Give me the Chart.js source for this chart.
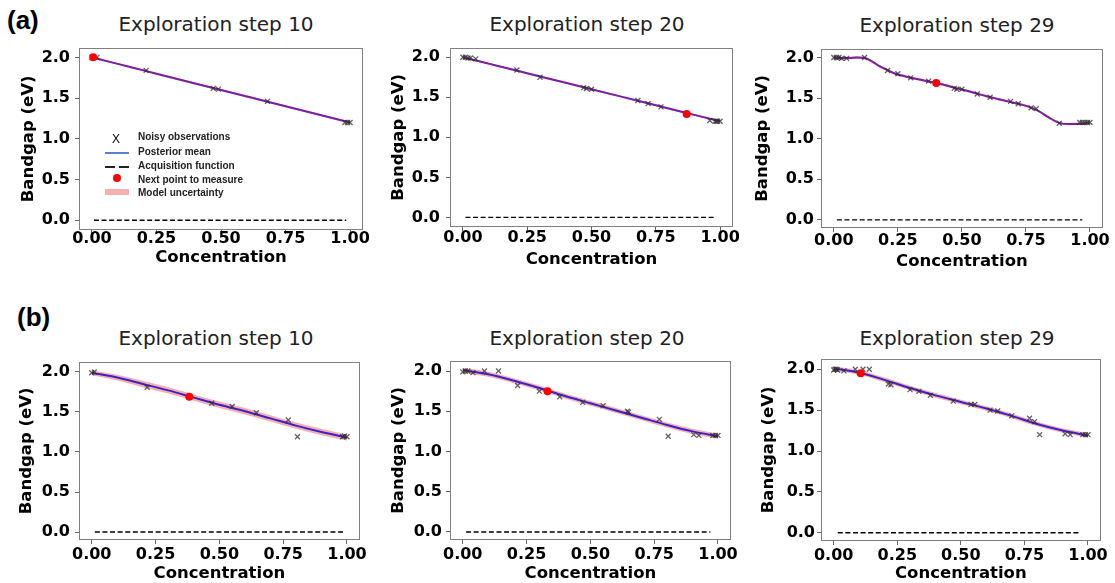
<!DOCTYPE html>
<html>
<head>
<meta charset="utf-8">
<script src="https://cdn.jsdelivr.net/npm/chart.js@4.4.1/dist/chart.umd.min.js"></script>
<style>
  body { margin: 0; background: #fff; width: 1115px; height: 583px; position: relative; overflow: hidden; font-family: 'DejaVu Sans', sans-serif; }
  canvas { position: absolute; }
  .title { position: absolute; transform: translate(-50%, -50%); font-size: 20px; color: #222; white-space: nowrap; }
  .panel { position: absolute; font: bold 26px 'Liberation Sans', sans-serif; color: #000; }
  .lg { position: absolute; font: bold 10px 'Liberation Sans', sans-serif; color: #222; transform: translateY(-50%); white-space: nowrap; }
  .sw { position: absolute; }
</style>
</head>
<body>
<div class="panel" style="left:7px;top:5px">(a)</div>
<div class="panel" style="left:17px;top:302px">(b)</div>

<div class="title" style="left:216px;top:24px">Exploration step 10</div>
<div class="title" style="left:587px;top:24px">Exploration step 20</div>
<div class="title" style="left:957px;top:25px">Exploration step 29</div>
<div class="title" style="left:216px;top:338px">Exploration step 10</div>
<div class="title" style="left:587px;top:338px">Exploration step 20</div>
<div class="title" style="left:957px;top:338px">Exploration step 29</div>

<script>
// shared ticks
const xTicks = [0, 0.25, 0.5, 0.75, 1.0];
const yTicks = [0, 0.5, 1.0, 1.5, 2.0];

// grid the posterior mean was read on
const meanX = [0, 0.1, 0.2, 0.3, 0.4, 0.5, 0.6, 0.7, 0.8, 0.9, 1.0];

// (a) step 10
const a10Mean = [2.0, 1.92, 1.84, 1.76, 1.68, 1.60, 1.52, 1.44, 1.36, 1.28, 1.20];
const a10Sigma = [0.012, 0.012, 0.012, 0.012, 0.012, 0.012, 0.012, 0.012, 0.012, 0.012, 0.012];
const a10ObsX = [0.0, 0.02, 0.21, 0.47, 0.49, 0.68, 0.98, 0.99, 1.0];
const a10ObsY = [2.0, 2.0, 1.84, 1.62, 1.61, 1.46, 1.2, 1.2, 1.2];
const a10Next = [0.005, 2.0];
const a10AcqX = [0.008, 0.985];
const a10AcqY = [0, 0];

// (a) step 20
const a20Mean = [2.0, 1.92, 1.84, 1.76, 1.68, 1.60, 1.52, 1.44, 1.36, 1.28, 1.20];
const a20Sigma = [0.012, 0.012, 0.012, 0.012, 0.012, 0.012, 0.012, 0.012, 0.012, 0.012, 0.012];
const a20ObsX = [0.0, 0.01, 0.02, 0.03, 0.05, 0.21, 0.30, 0.47, 0.48, 0.50, 0.68, 0.72, 0.77, 0.96, 0.98, 0.985, 0.99, 1.0];
const a20ObsY = [2.0, 2.0, 1.99, 1.99, 1.98, 1.84, 1.75, 1.62, 1.61, 1.60, 1.46, 1.42, 1.38, 1.21, 1.2, 1.2, 1.2, 1.2];
const a20Next = [0.87, 1.29];
const a20AcqX = [0.01, 0.975];
const a20AcqY = [0, 0];

// (a) step 29 - wiggly mean, read on a finer grid
const a29MeanX = [0, 0.03, 0.06, 0.09, 0.12, 0.15, 0.18, 0.21, 0.24, 0.27, 0.30, 0.34, 0.37, 0.40, 0.44, 0.48, 0.52, 0.56, 0.60, 0.64, 0.68, 0.72, 0.76, 0.80, 0.84, 0.88, 0.92, 0.96, 1.0];
const a29Mean = [2.0, 1.995, 1.995, 2.0, 1.995, 1.95, 1.89, 1.845, 1.80, 1.775, 1.75, 1.725, 1.705, 1.685, 1.655, 1.62, 1.59, 1.555, 1.52, 1.49, 1.46, 1.43, 1.395, 1.34, 1.26, 1.195, 1.18, 1.185, 1.2];
const a29Sigma = [0.015, 0.015, 0.015, 0.015, 0.015, 0.015, 0.015, 0.015, 0.015, 0.015, 0.015, 0.015, 0.015, 0.015, 0.015, 0.015, 0.015, 0.015, 0.015, 0.015, 0.015, 0.015, 0.015, 0.015, 0.015, 0.015, 0.015, 0.015, 0.015];
const a29ObsX = [0.0, 0.01, 0.02, 0.03, 0.05, 0.12, 0.21, 0.25, 0.30, 0.37, 0.47, 0.48, 0.50, 0.56, 0.61, 0.69, 0.72, 0.77, 0.79, 0.88, 0.96, 0.97, 0.98, 0.99, 1.0];
const a29ObsY = [2.0, 2.0, 2.0, 1.99, 1.99, 2.0, 1.84, 1.80, 1.75, 1.71, 1.62, 1.61, 1.61, 1.55, 1.51, 1.46, 1.43, 1.38, 1.37, 1.19, 1.2, 1.2, 1.2, 1.2, 1.2];
const a29Next = [0.40, 1.685];
const a29AcqX = [0.012, 0.97];
const a29AcqY = [0, 0];

// (b) step 10
const b10Mean = [1.99, 1.93, 1.85, 1.77, 1.68, 1.59, 1.51, 1.42, 1.33, 1.25, 1.18];
const b10Sigma = [0.03, 0.035, 0.04, 0.04, 0.04, 0.04, 0.04, 0.04, 0.04, 0.04, 0.035];
const b10ObsX = [0.0, 0.01, 0.217, 0.47, 0.55, 0.645, 0.77, 0.806, 0.983, 0.99, 1.0];
const b10ObsY = [1.99, 2.0, 1.81, 1.61, 1.57, 1.49, 1.40, 1.19, 1.19, 1.2, 1.19];
const b10Next = [0.382, 1.69];
const b10AcqX = [0.012, 0.99];
const b10AcqY = [0, 0];

// (b) step 20
const b20Mean = [2.01, 1.96, 1.88, 1.79, 1.69, 1.60, 1.51, 1.42, 1.33, 1.25, 1.19];
const b20Sigma = [0.03, 0.032, 0.032, 0.032, 0.032, 0.032, 0.032, 0.032, 0.032, 0.032, 0.03];
const b20ObsX = [0.0, 0.01, 0.02, 0.04, 0.085, 0.14, 0.215, 0.30, 0.38, 0.47, 0.55, 0.645, 0.65, 0.77, 0.805, 0.905, 0.925, 0.98, 0.99, 1.0];
const b20ObsY = [1.99, 2.0, 2.0, 1.98, 2.0, 2.0, 1.82, 1.75, 1.68, 1.61, 1.57, 1.50, 1.49, 1.40, 1.19, 1.21, 1.20, 1.2, 1.2, 1.2];
const b20Next = [0.332, 1.75];
const b20AcqX = [0.013, 0.97];
const b20AcqY = [0, 0];

// (b) step 29
const b29Mean = [2.01, 1.96, 1.87, 1.77, 1.68, 1.60, 1.52, 1.43, 1.33, 1.25, 1.19];
const b29Sigma = [0.028, 0.028, 0.028, 0.028, 0.028, 0.028, 0.028, 0.028, 0.028, 0.028, 0.028];
const b29ObsX = [0.0, 0.005, 0.01, 0.015, 0.04, 0.085, 0.115, 0.14, 0.215, 0.225, 0.30, 0.335, 0.38, 0.47, 0.54, 0.555, 0.615, 0.645, 0.70, 0.77, 0.79, 0.81, 0.91, 0.93, 0.98, 0.99, 1.0];
const b29ObsY = [1.99, 2.0, 2.0, 1.99, 1.98, 2.0, 2.0, 2.0, 1.82, 1.81, 1.75, 1.73, 1.68, 1.61, 1.57, 1.57, 1.50, 1.49, 1.43, 1.40, 1.36, 1.20, 1.21, 1.20, 1.2, 1.2, 1.2];
const b29Next = [0.106, 1.95];
const b29AcqX = [0.016, 0.97];
const b29AcqY = [0, 0];

Chart.defaults.font.family = "'DejaVu Sans', sans-serif";

const W = 78, H = 45, PAD = 6;
const lineA = '#7a1fa8';
const lineB = '#3b22cc';
const band = 'rgba(245, 120, 120, 0.6)';

// box = plot area [left, top, right, bottom]; the rest tunes label positions
const plots = [
  { box: [79, 39, 363, 230], mx: meanX, m: a10Mean, s: a10Sigma, ox: a10ObsX, oy: a10ObsY, nx: a10Next, ax: a10AcqX, ay: a10AcqY, col: lineA, yr: [-0.12, 2.12], xp: -5, yp: 5, xtp: 7.1, ytp: 18.1 },
  { box: [450, 38, 733, 227], mx: meanX, m: a20Mean, s: a20Sigma, ox: a20ObsX, oy: a20ObsY, nx: a20Next, ax: a20AcqX, ay: a20AcqY, col: lineA, yr: [-0.12, 2.12], xp: -3, yp: 6, xtp: 2.1, ytp: 17.1 },
  { box: [821, 42, 1103, 228], mx: a29MeanX, m: a29Mean, s: a29Sigma, ox: a29ObsX, oy: a29ObsY, nx: a29Next, ax: a29AcqX, ay: a29AcqY, col: lineA, yr: [-0.1, 2.11], xp: -1, yp: 3, xtp: 1.1, ytp: 10.1 },
  { box: [79, 353, 362, 540], mx: meanX, m: b10Mean, s: b10Sigma, ox: b10ObsX, oy: b10ObsY, nx: b10Next, ax: b10AcqX, ay: b10AcqY, col: lineB, yr: [-0.1, 2.13], xp: 1, yp: 5, xtp: 1.1, ytp: 16.1 },
  { box: [450, 353, 733, 540], mx: meanX, m: b20Mean, s: b20Sigma, ox: b20ObsX, oy: b20ObsY, nx: b20Next, ax: b20AcqX, ay: b20AcqY, col: lineB, yr: [-0.1, 2.13], xp: 1, yp: 4, xtp: 1.1, ytp: 17.1 },
  { box: [821, 353, 1103, 541], mx: meanX, m: b29Mean, s: b29Sigma, ox: b29ObsX, oy: b29ObsY, nx: b29Next, ax: b29AcqX, ay: b29AcqY, col: lineB, yr: [-0.1, 2.13], xp: 1, yp: 2, xtp: 2.1, ytp: 16.1 }
];

// matplotlib-style box around the plot area
const frame = {
  id: 'frame',
  afterDraw(chart) {
    const { ctx, chartArea: a } = chart;
    ctx.save();
    ctx.strokeStyle = '#808080';
    ctx.lineWidth = 1;
    ctx.strokeRect(Math.round(a.left) + 0.5, Math.round(a.top) + 0.5, Math.round(a.right - a.left) - 1, Math.round(a.bottom - a.top) - 1);
    ctx.restore();
  }
};

plots.forEach(p => {
  const [L, T, R, B] = p.box;
  const left = L - W, top = T - PAD;
  const w = R + PAD - left, h = B + H - top;
  const cv = document.createElement('canvas');
  cv.width = w; cv.height = h;
  cv.style.left = left + 'px'; cv.style.top = top + 'px';
  cv.style.width = w + 'px'; cv.style.height = h + 'px';
  document.body.appendChild(cv);

  const mean = p.mx.map((x, i) => ({ x, y: p.m[i] }));
  const upper = p.mx.map((x, i) => ({ x, y: p.m[i] + p.s[i] }));
  const lower = p.mx.map((x, i) => ({ x, y: p.m[i] - p.s[i] }));
  const obs = p.ox.map((x, i) => ({ x, y: p.oy[i] }));
  const acq = p.ax.map((x, i) => ({ x, y: p.ay[i] }));

  new Chart(cv, {
    type: 'line',
    data: {
      datasets: [
        { data: [{ x: p.nx[0], y: p.nx[1] }], showLine: false, pointRadius: 4, pointBackgroundColor: '#ff0000', pointBorderColor: '#ff0000', pointBorderWidth: 0 },
        { data: obs, showLine: false, pointStyle: 'crossRot', pointRadius: 3.5, pointBorderColor: 'rgba(45,45,45,0.75)', pointBorderWidth: 1.3 },
        { data: mean, borderColor: p.col, borderWidth: 2, pointRadius: 0, cubicInterpolationMode: 'monotone' },
        { data: acq, borderColor: '#000', borderWidth: 1.4, borderDash: [5, 2.6], pointRadius: 0 },
        { data: upper, borderColor: 'transparent', borderWidth: 0, pointRadius: 0, fill: '+1', backgroundColor: band, cubicInterpolationMode: 'monotone' },
        { data: lower, borderColor: 'transparent', borderWidth: 0, pointRadius: 0, cubicInterpolationMode: 'monotone' }
      ]
    },
    options: {
      responsive: false,
      animation: false,
      events: [],
      layout: { padding: { top: PAD, right: PAD, left: 0, bottom: 0 } },
      plugins: { legend: { display: false }, tooltip: { enabled: false } },
      scales: {
        x: {
          type: 'linear', min: -0.05, max: 1.05,
          afterBuildTicks: s => { s.ticks = xTicks.map(v => ({ value: v })); },
          afterFit: s => { s.height = H; },
          grid: { drawOnChartArea: false, drawTicks: true, tickLength: 4, color: '#666' },
          border: { display: false },
          ticks: { padding: p.xp, color: '#000', maxRotation: 0, autoSkip: false, font: { size: 16, weight: 'bold' }, callback: v => v.toFixed(2) },
          title: { display: true, text: 'Concentration', color: '#000', font: { size: 16.5, weight: 'bold' }, padding: { top: 0, bottom: p.xtp } }
        },
        y: {
          type: 'linear', min: p.yr[0], max: p.yr[1],
          afterBuildTicks: s => { s.ticks = yTicks.map(v => ({ value: v })); },
          afterFit: s => { s.width = W; },
          grid: { drawOnChartArea: false, drawTicks: true, tickLength: 4, color: '#666' },
          border: { display: false },
          ticks: { padding: p.yp, color: '#000', font: { size: 16, weight: 'bold' }, callback: v => v.toFixed(1) },
          title: { display: true, text: 'Bandgap (eV)', color: '#000', font: { size: 16.5, weight: 'bold' }, padding: { top: p.ytp, bottom: 0 } }
        }
      }
    },
    plugins: [frame]
  });
});
</script>

<!-- legend inside the first panel -->
<div class="lg" style="left:112px;top:139px;font-size:12px;font-weight:normal;color:#000">X</div>
<div class="lg" style="left:138px;top:136px">Noisy observations</div>
<div class="sw" style="left:105px;top:152px;width:24px;height:2px;background:#5b7fd3"></div>
<div class="lg" style="left:138px;top:151px">Posterior mean</div>
<div class="sw" style="left:105px;top:166px;width:10px;height:2px;background:#222"></div>
<div class="sw" style="left:119px;top:166px;width:10px;height:2px;background:#222"></div>
<div class="lg" style="left:138px;top:165px">Acquisition function</div>
<div class="sw" style="left:113px;top:174px;width:8px;height:8px;border-radius:50%;background:#ff0000"></div>
<div class="lg" style="left:138px;top:179px">Next point to measure</div>
<div class="sw" style="left:105px;top:189px;width:24px;height:6px;background:#f7b0b0"></div>
<div class="lg" style="left:138px;top:192px">Model uncertainty</div>
</body>
</html>
